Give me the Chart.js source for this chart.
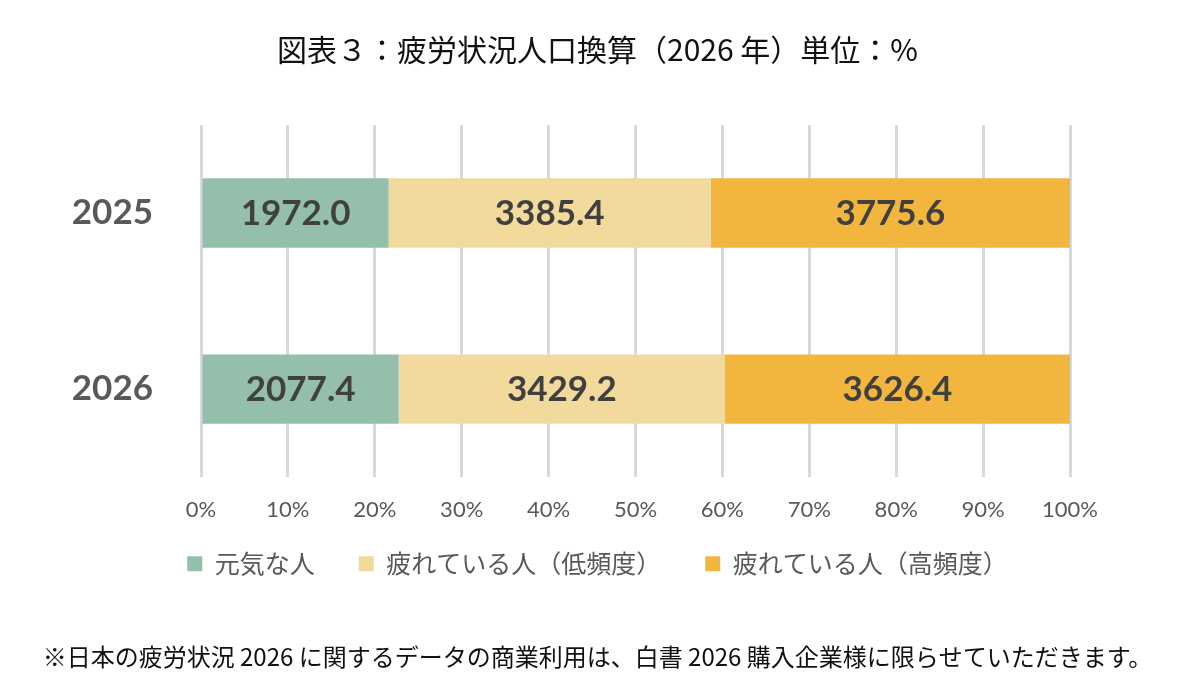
<!DOCTYPE html>
<html><head><meta charset="utf-8">
<script src="https://cdn.jsdelivr.net/npm/chart.js@4/dist/chart.umd.min.js"></script>
<style>html,body{margin:0;padding:0;background:#fff;overflow:hidden}#wrap{width:1195px;height:691px}</style>
</head><body><div id="wrap"><canvas id="c" width="1195" height="691"></canvas></div>
<script>
const categories = ['2025', '2026'];
const seriesNames = ['元気な人', '疲れている人（低頻度）', '疲れている人（高頻度）'];
const genki = [1972.0, 2077.4];
const tiredLow = [3385.4, 3429.2];
const tiredHigh = [3775.6, 3626.4];
const xTickValues = [0, 10, 20, 30, 40, 50, 60, 70, 80, 90, 100];
const titleText = '図表３：疲労状況人口換算（2026 年）単位：%';
const noteText = '※日本の疲労状況 2026 に関するデータの商業利用は、白書 2026 購入企業様に限らせていただきます。';

const colors = ['#93BFAB', '#F2DA9C', '#F2B63F'];
const rawSeries = [genki, tiredLow, tiredHigh];
const totals = categories.map((_, j) => rawSeries.reduce((s, arr) => s + arr[j], 0));
const toShare = arr => arr.map((v, j) => v / totals[j] * 100);

const CJK = "'Noto Sans CJK JP', 'Noto Sans', sans-serif";
const LATIN = "Lato, 'Open Sans', sans-serif";
Chart.defaults.font.family = CJK;

const valueLabels = {
  id: 'valueLabels',
  afterLayout(chart) {
    // let the x tick labels draw below the (shortened) axis box
    const s = chart.scales.x;
    s.bottom = s.top + 70;
    s.height = 70;
  },
  afterDatasetsDraw(chart) {
    const ctx = chart.ctx;
    chart.data.datasets.forEach((ds, i) => {
      const meta = chart.getDatasetMeta(i);
      meta.data.forEach((el, j) => {
        ctx.save();
        ctx.font = "bold 35px " + LATIN;
        ctx.fillStyle = '#404040';
        ctx.textAlign = 'center';
        ctx.textBaseline = 'middle';
        ctx.fillText(ds.raw[j].toFixed(1), (el.x + el.base) / 2, el.y + 1);
        ctx.restore();
      });
    });
  }
};

new Chart(document.getElementById('c'), {
  type: 'bar',
  data: {
    labels: categories,
    datasets: rawSeries.map((arr, i) => ({
      label: seriesNames[i],
      data: toShare(arr),
      raw: arr,
      backgroundColor: colors[i],
      borderWidth: 0,
      categoryPercentage: 1,
      barPercentage: 0.394
    }))
  },
  options: {
    indexAxis: 'y',
    responsive: false,
    animation: false,
    layout: { padding: 0 },
    scales: {
      x: {
        stacked: true,
        min: 0, max: 100,
        afterBuildTicks: s => { s.ticks = xTickValues.map(v => ({ value: v })); },
        ticks: {
          callback: v => v + '%',
          font: { family: LATIN, size: 22 },
          color: '#595959',
          padding: 20,
          maxRotation: 0
        },
        grid: { color: '#D9D9D9', lineWidth: 3, drawTicks: false },
        border: { display: false },
        afterFit: s => { s.height = 30; }
      },
      y: {
        stacked: true,
        ticks: {
          font: { family: LATIN, size: 35, weight: 'bold' },
          color: '#595959',
          padding: 48
        },
        grid: { display: false, drawTicks: false },
        border: { display: false },
        afterFit: s => { s.width = 201; }
      },
      ySpace: {
        type: 'linear',
        axis: 'y',
        position: 'right',
        display: true,
        ticks: { display: false },
        grid: { display: false, drawTicks: false },
        border: { display: false },
        afterFit: s => { s.width = 125; }
      }
    },
    plugins: {
      title: {
        display: true,
        text: titleText,
        font: { family: CJK, size: 30, weight: 'normal' },
        color: '#111111',
        padding: { top: 32, bottom: 57 }
      },
      subtitle: {
        display: true,
        position: 'bottom',
        text: noteText,
        font: { family: CJK, size: 24, weight: 'normal' },
        color: '#111111',
        padding: { top: 56, bottom: 20 }
      },
      legend: {
        position: 'bottom',
        labels: {
          boxWidth: 15,
          boxHeight: 15,
          padding: 44,
          color: '#595959',
          font: { family: CJK, size: 25 }
        }
      },
      tooltip: { enabled: false }
    }
  },
  plugins: [valueLabels]
});
</script></body></html>
